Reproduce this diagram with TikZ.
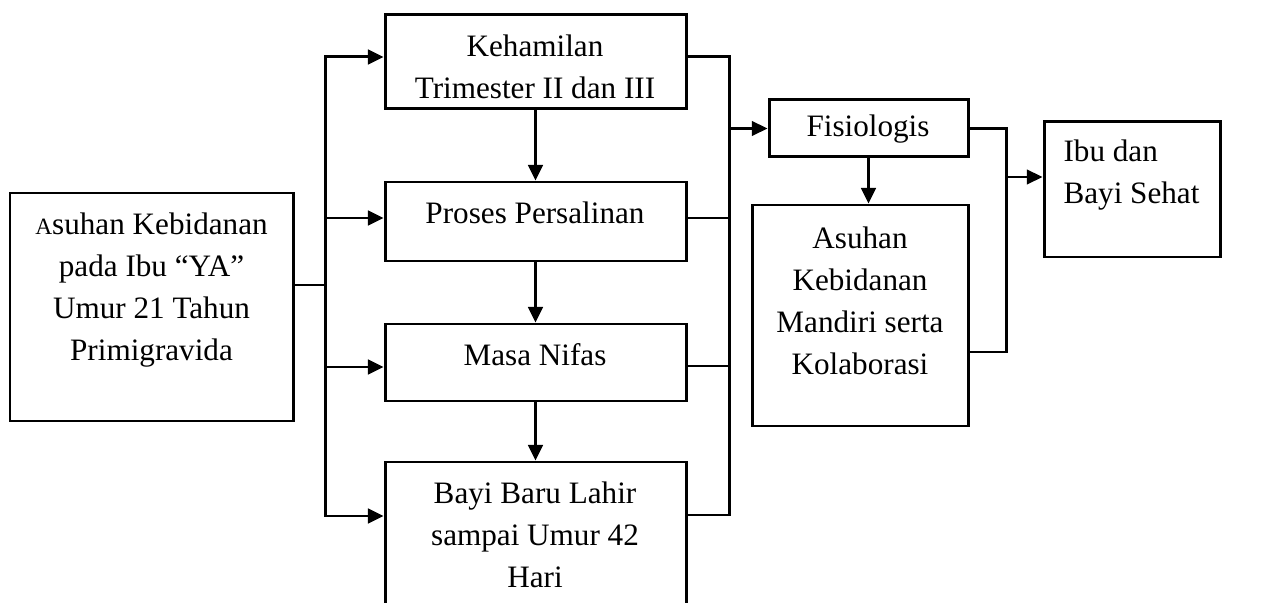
\documentclass[tikz,border=0pt]{standalone}
\usepackage{fontspec}
\setmainfont{Liberation Serif}
\usetikzlibrary{arrows.meta,fit}

\tikzset{
  box/.style={draw, line width=1.15pt, inner sep=0pt},
  txt/.style={align=center, font=\fontsize{12}{16.2}\selectfont, inner sep=0pt},
  line/.style={line width=1.15pt, line cap=rect},
  arr/.style={line width=1.15pt, -{Triangle[length=6pt,width=5.6pt]}},
}

\begin{document}
\begin{tikzpicture}[x=0.385pt, y=-0.385pt]
	\useasboundingbox (0,0) rectangle (1278,603);
	\clip (0,0) rectangle (1278,603);

	% kotak
	\node[box, fit={(10,193)(293,421)}] (ibu) {};
	\node[box, fit={(385,15)(686,109)}] (keh) {};
	\node[box, fit={(385,182)(686,261)}] (proses) {};
	\node[box, fit={(385,324)(686,401)}] (nifas) {};
	\node[box, fit={(385,462)(686,650)}] (bayi) {};
	\node[box, fit={(769,100)(968,157)}] (fisio) {};
	\node[box, fit={(752,205)(968,426)}] (askeb) {};
	\node[box, fit={(1044,122)(1220,257)}] (sehat) {};

	% teks
	\node[txt] (ibu-t) at (151.5,290) {{\fontsize{9}{9}\selectfont A}suhan Kebidanan\\pada Ibu “YA”\\Umur 21 Tahun\\Primigravida};
	\node[txt] (keh-t) at (535,67) {Kehamilan\\Trimester II dan III};
	\node[txt] (proses-t) at (535,213) {Proses Persalinan};
	\node[txt] (nifas-t) at (535,355) {Masa Nifas};
	\node[txt] (bayi-t) at (535,535) {Bayi Baru Lahir\\sampai Umur 42\\Hari};
	\node[txt] (fisio-t) at (868,129) {Fisiologis};
	\node[txt] (askeb-t) at (860,301) {Asuhan\\Kebidanan\\Mandiri serta\\Kolaborasi};
	\node[txt, align=left, anchor=west] (sehat-t) at (1063,175) {Ibu dan\\Bayi Sehat};

	% percabangan kiri
	\coordinate (busL) at (325,285);
	\coordinate (busL1) at (325,57);
	\coordinate (busL2) at (325,218);
	\coordinate (busL3) at (325,367);
	\coordinate (busL4) at (325,516);
	\draw[line] (ibu.east |- busL) -- (busL);
	\draw[line] (busL1) -- (busL4);
	\draw[arr] (busL1) -- (busL1 -| keh.west);
	\draw[arr] (busL2) -- (busL2 -| proses.west);
	\draw[arr] (busL3) -- (busL3 -| nifas.west);
	\draw[arr] (busL4) -- (busL4 -| bayi.west);

	% urutan tengah
	\draw[arr] (keh.south) -- (proses.north);
	\draw[arr] (proses.south) -- (nifas.north);
	\draw[arr] (nifas.south) -- (bayi.north);

	% percabangan kanan
	\coordinate (busR1) at (729,57);
	\coordinate (busR2) at (729,218);
	\coordinate (busR3) at (729,366);
	\coordinate (busR4) at (729,515);
	\draw[line] (busR1 -| keh.east) -- (busR1) -- (busR4) -- (busR4 -| bayi.east);
	\draw[line] (busR2 -| proses.east) -- (busR2);
	\draw[line] (busR3 -| nifas.east) -- (busR3);
	\draw[arr, line width=0.8pt] (busR1 |- fisio.west) -- (fisio.west);

	\draw[arr] (fisio.south) -- (fisio.south |- askeb.north);

	\coordinate (kanan) at (1006,352);
	\coordinate (kananmid) at (1006,177);
	\draw[line] (fisio.east) -| (kanan) -- (kanan -| askeb.east);
	\draw[arr, line width=0.8pt] (kananmid) -- (kananmid -| sehat.west);
\end{tikzpicture}
\end{document}
